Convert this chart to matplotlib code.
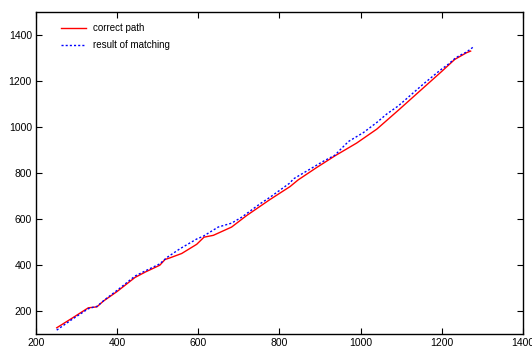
import numpy as np
import matplotlib
matplotlib.use("Agg")
import matplotlib.pyplot as plt

plt.rcParams["font.family"] = ["Liberation Sans", "DejaVu Sans"]

# correct path (red)
path_x = [251, 290, 329, 340, 350, 366, 400, 444, 470, 505, 518, 530, 559, 596,
          614, 637, 682, 719, 776, 826, 846, 890, 937, 990, 1040, 1093, 1150,
          1200, 1232, 1261, 1271]
path_y = [127, 170, 214, 216, 218, 243, 285, 346, 370, 399, 424, 431, 450, 490,
          521, 529, 565, 615, 684, 741, 770, 822, 875, 930, 991, 1073, 1163,
          1242, 1294, 1323, 1330]

# result of matching (blue)
match_x = [251, 290, 329, 340, 350, 370, 400, 444, 470, 505, 522, 555, 596,
           612, 649, 682, 707, 752, 777, 826, 834, 908, 937, 949, 970, 1007,
           1040, 1064, 1093, 1154, 1196, 1216, 1233, 1245, 1261, 1280]
match_y = [117, 165, 210, 216, 220, 250, 290, 352, 375, 405, 432, 471, 513,
           525, 565, 582, 608, 666, 695, 757, 774, 851, 878, 900, 937, 976,
           1020, 1056, 1092, 1186, 1247, 1273, 1299, 1312, 1326, 1351]

fig = plt.figure(figsize=(5.32, 3.5), dpi=100)
ax = fig.add_axes([0.0677, 0.0457, 0.9153, 0.92])

ax.plot(path_x, path_y, color="#ff0000", lw=1.0, label="correct path")
ax.plot(match_x, match_y, color="#0000ff", lw=1.0, ls=(0, (1.5, 1.5)),
        label="result of matching")

ax.set_xlim(200, 1400)
ax.set_ylim(100, 1500)
ax.set_xticks([200, 400, 600, 800, 1000, 1200, 1400])
ax.set_yticks([200, 400, 600, 800, 1000, 1200, 1400])
ax.tick_params(direction="in", length=4, width=0.8, labelsize=7.5,
               top=True, right=True, pad=3)
for s in ax.spines.values():
    s.set_linewidth(1.0)

ax.legend(loc="upper left", frameon=False, fontsize=7, handlelength=2.6,
          handletextpad=0.7, borderaxespad=0.4, labelspacing=0.75,
          bbox_to_anchor=(0.035, 0.99))

fig.savefig("out.png", dpi=100, facecolor="white")
